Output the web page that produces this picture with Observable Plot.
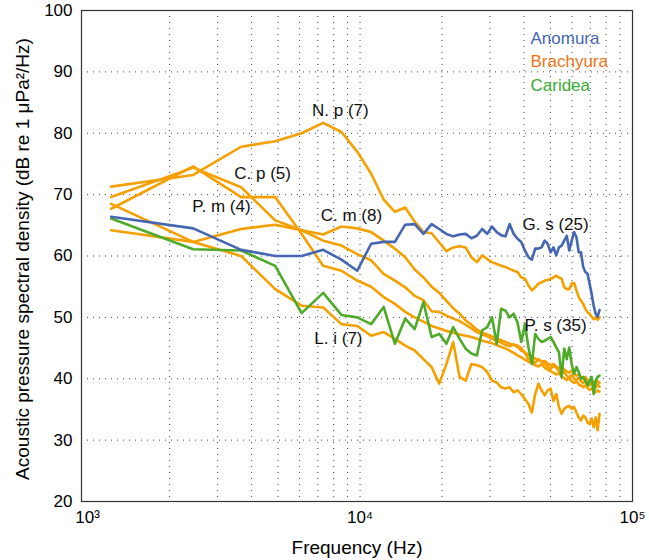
<!DOCTYPE html>
<html><head><meta charset="utf-8">
<script src="https://cdn.jsdelivr.net/npm/d3@7"></script>
<script src="https://cdn.jsdelivr.net/npm/@observablehq/plot@0.6"></script>
<style>
body{margin:0;background:#fff;}
#chart{width:649px;height:560px;}
</style></head><body><div id="chart"></div>
<script>
// Frequency bins (Hz)
const freq = [1221,2441,3662,4883,6104,7324,8545,9766,10986,12207,
13428,14648,15869,17090,18311,19531,20752,21973,23193,24414,
25635,26855,28076,29297,30518,31738,32959,34180,35400,36621,
37842,39063,40283,41504,42725,43945,45166,46387,47607,48828,
50049,51270,52490,53711,54932,56152,57373,58594,59814,61035,
62256,63477,64697,65918,67139,68359,69580,70801,72021,73242,
74463,75684];

// Brachyura (orange)
const Np = [71.3,73.2,77.8,78.7,80.0,81.7,80.2,77.0,73.4,69.2,
67.2,67.9,65.6,63.9,63.7,62.2,60.8,61.4,61.6,61.4,
59.8,59.0,60.1,59.5,59.0,58.7,58.4,58.2,57.9,57.6,
57.4,56.5,56.3,55.2,54.4,54.9,55.5,55.7,56.0,56.1,
56.3,56.5,56.8,56.5,56.3,54.9,54.6,54.6,55.5,55.6,
54.4,53.3,52.7,52.2,51.4,50.8,50.6,50.1,49.7,50.0,
49.6,50.0];
const Cp = [67.7,74.6,69.6,69.6,63.6,58.4,57.6,56.0,55.0,53.3,
52.2,50.9,50.0,49.3,48.6,48.2,47.8,47.5,47.2,47.0,
46.8,46.5,46.2,46.0,45.8,45.5,45.2,44.9,44.6,44.2,
43.8,43.5,43.1,42.8,42.5,42.2,42.0,42.4,41.8,41.5,
41.2,41.0,40.7,40.9,40.4,40.1,39.8,40.1,39.6,39.3,
39.6,39.1,38.9,38.6,38.9,38.5,38.2,38.4,38.0,37.8,
38.1,37.9];
const Pm = [69.6,74.4,71.2,65.8,64.2,62.5,61.7,60.3,59.3,57.1,
56.0,54.9,53.5,52.8,51.0,50.9,50.3,49.8,49.4,48.8,
48.2,47.6,47.2,46.9,46.5,46.2,45.9,45.5,45.3,45.6,
45.4,45.0,44.2,43.2,43.0,42.6,43.2,42.8,42.4,42.0,
41.6,42.1,41.8,41.2,40.8,41.1,40.5,40.2,40.6,40.0,
39.8,40.2,39.6,39.3,39.7,39.1,38.9,39.3,38.8,38.6,
39.0,38.7];
const Cm = [64.2,62.3,64.4,65.1,64.2,63.5,64.8,64.5,63.9,62.5,
61.2,59.8,57.8,56.5,55.0,54.0,52.7,51.5,50.6,49.5,
48.8,48.0,47.5,47.2,46.9,46.6,46.3,46.0,45.7,45.5,
45.2,44.6,44.3,43.9,43.5,43.3,43.0,42.8,42.9,42.5,
42.2,42.4,42.0,41.7,41.8,41.5,41.2,41.0,41.3,40.8,
40.5,40.7,40.2,40.0,40.3,39.8,39.5,39.8,39.4,39.2,
39.6,39.3];
const Li = [68.5,62.3,60.0,54.6,51.9,51.6,48.9,48.6,47.0,47.6,
46.5,45.4,44.6,43.2,41.9,39.2,42.4,46.0,40.3,39.7,
42.4,42.2,41.9,41.1,39.7,39.4,38.6,38.4,38.6,37.8,
38.1,37.5,36.7,35.9,34.5,37.5,39.2,38.1,37.3,38.1,
38.4,36.4,37.5,35.4,34.3,35.1,35.4,35.6,35.1,35.4,
34.5,33.7,33.2,34.0,33.7,32.9,32.6,33.5,32.1,33.7,
31.6,34.3];
// Anomura (blue)
const Gs = [66.4,64.5,61.0,60.0,60.0,61.0,59.4,57.6,62.0,62.3,
62.3,65.1,65.2,63.6,65.2,64.4,63.6,63.2,63.5,63.6,
62.9,63.3,64.4,63.6,64.8,63.9,63.4,63.2,65.2,63.6,
62.8,62.3,60.9,59.8,59.4,61.2,61.2,61.4,62.5,62.0,
60.6,61.4,60.1,61.4,61.7,62.5,63.3,60.9,62.5,63.9,
63.1,60.6,60.6,58.2,57.4,57.1,55.5,53.8,51.9,50.6,
50.1,51.2];
// Caridea (green)
const Ps = [66.1,61.1,60.9,58.4,50.7,54.0,50.4,50.0,48.9,51.7,
45.7,49.8,48.1,52.5,46.8,47.3,45.7,48.4,46.5,44.9,
44.1,43.8,47.9,48.4,50.0,45.7,51.4,51.1,50.0,50.6,
49.2,46.0,48.9,45.1,42.4,47.3,46.5,46.0,46.2,46.5,
46.8,46.0,45.1,44.3,40.3,44.9,43.2,45.1,42.4,40.8,
41.9,41.1,40.0,40.3,39.7,38.9,39.7,40.3,37.5,39.7,
40.3,40.5];

const groups = ["Anomura","Brachyura","Caridea"];
const lineColors = {Anomura:"#4466b3", Brachyura:"#f6a000", Caridea:"#4eab2a"};
const legendColors = {Anomura:"#4466b3", Brachyura:"#f07414", Caridea:"#3aab32"};

const seriesList = [
  {name:"N. p", group:"Brachyura", values:Np},
  {name:"C. p", group:"Brachyura", values:Cp},
  {name:"P. m", group:"Brachyura", values:Pm},
  {name:"C. m", group:"Brachyura", values:Cm},
  {name:"L. i", group:"Brachyura", values:Li},
  {name:"P. s", group:"Caridea", values:Ps},
  {name:"G. s", group:"Anomura", values:Gs}
];

// Annotation labels: text, frequency (Hz), level (dB)
const labelText = ["N. p (7)","C. p (5)","P. m (4)","C. m (8)","G. s (25)","P. s (35)","L. i (7)"];
const labelFreq = [8470,4390,3100,9300,52200,52200,8330];
const labelLevel = [83.7,73.4,68.1,66.6,65.1,48.6,46.6];

const xTicks = [1000,10000,100000];
const xTickText = ["10³","10⁴","10⁵"];
const xGrid = [2000,3000,4000,5000,6000,7000,8000,9000,10000,20000,30000,40000,50000,60000,70000,80000,90000];
const yTicks = [20,30,40,50,60,70,80,90,100];

const rows = seriesList.flatMap(s => s.values.map((v,i) => ({series:s.name, group:s.group, f:freq[i], v})));
const labels = labelText.map((t,i) => ({t, f:labelFreq[i], v:labelLevel[i]}));

const font = "'Liberation Sans', Arial, Helvetica, sans-serif";

const marks = [
  Plot.ruleX(xGrid, {stroke:"#444", strokeWidth:1, strokeDasharray:"1,5"}),
  Plot.ruleY(yTicks.slice(1,-1), {stroke:"#444", strokeWidth:1, strokeDasharray:"1,5"})
];
for (const g of ["Brachyura","Caridea","Anomura"]) {
  marks.push(Plot.line(rows.filter(d => d.group === g), {x:"f", y:"v", z:"series", stroke:lineColors[g], strokeWidth:2.6, strokeLinejoin:"round"}));
}
marks.push(Plot.text(labels, {x:"f", y:"v", text:"t", fontSize:17, fill:"#111"}));
groups.forEach((g,i) => {
  marks.push(Plot.text([g], {frameAnchor:"top-right", textAnchor:"start", lineAnchor:"middle", dx:-102, dy:28 + i*23.5, fontSize:17, fill:legendColors[g]}));
});
marks.push(Plot.frame({stroke:"#333", strokeWidth:1.2}));
marks.push(Plot.axisX({ticks:xTicks, tickFormat:d => xTickText[xTicks.indexOf(d)], tickSize:0, tickPadding:9, fontSize:17, label:null}));
marks.push(Plot.axisY({ticks:yTicks, tickSize:0, tickPadding:9, fontSize:17, label:null}));
marks.push(Plot.text(["Frequency (Hz)"], {frameAnchor:"bottom", lineAnchor:"middle", dy:46, fontSize:19, fill:"#000"}));
marks.push(Plot.text(["Acoustic pressure spectral density (dB re 1 μPa²/Hz)"], {frameAnchor:"left", textAnchor:"middle", lineAnchor:"middle", dx:-59, dy:3, rotate:-90, fontSize:19, fill:"#000"}));

const chart = Plot.plot({
  width:649, height:560,
  marginLeft:81, marginRight:17, marginTop:10, marginBottom:59,
  style:{fontFamily:font, color:"#000", background:"#fff"},
  x:{type:"log", domain:[950,100000]},
  y:{domain:[20,100]},
  marks
});
document.getElementById("chart").appendChild(chart);
</script></body></html>
